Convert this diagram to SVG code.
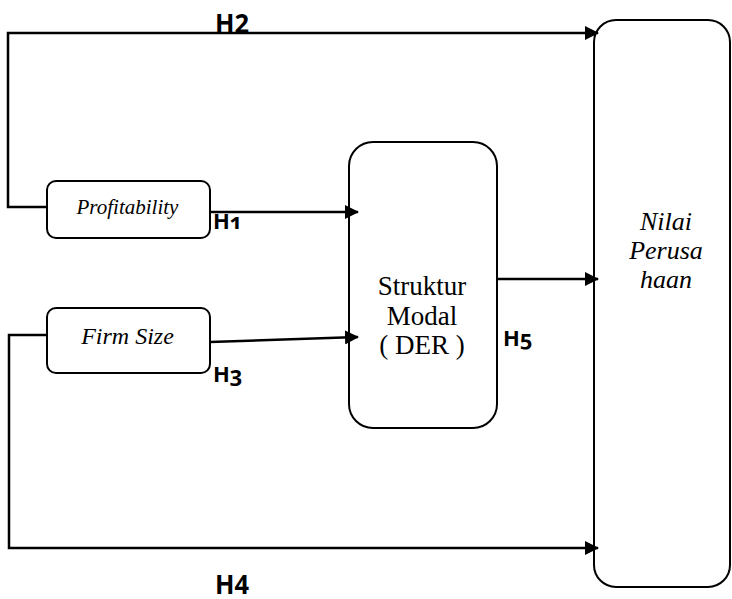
<svg xmlns="http://www.w3.org/2000/svg" width="732" height="599" viewBox="0 0 732 599">
<style>
.box{fill:#fff;stroke:#000;stroke-width:2}
.ln{fill:none;stroke:#000;stroke-width:2.5}
.h{font-family:"Open Sans",sans-serif;font-weight:bold;font-size:22px;fill:#000;font-variant-numeric:oldstyle-nums}
.hc{font-family:"Liberation Sans Narrow","Open Sans",sans-serif;font-weight:bold;font-size:26px;fill:#000}
.t{font-family:"Liberation Serif",serif;fill:#000;text-anchor:middle}
.i{font-style:italic}
</style>
<defs>
<marker id="ar" markerWidth="14" markerHeight="14" refX="13" refY="7" orient="auto" markerUnits="userSpaceOnUse" viewBox="0 0 14 14">
<path d="M0,0 L14,7 L0,14 Z" fill="#000"/>
</marker>
</defs>
<g id="nilai">
<rect class="box" x="594" y="20" width="136" height="567" rx="22"/>
<text class="t i" x="666" y="230" font-size="26">Nilai</text>
<text class="t i" x="666" y="259" font-size="26">Perusa</text>
<text class="t i" x="666" y="288" font-size="26">haan</text>
</g>
<g id="struktur">
<rect class="box" x="349" y="142" width="148" height="286" rx="24"/>
<text class="t" x="422" y="295" font-size="27">Struktur</text>
<text class="t" x="422" y="325" font-size="27">Modal</text>
<text class="t" x="422" y="354" font-size="27">( DER )</text>
</g>
<g id="profitability">
<rect class="box" x="47" y="181" width="163" height="57" rx="9"/>
<text class="t i" x="127.5" y="214" font-size="21">Profitability</text>
</g>
<g id="firmsize">
<rect class="box" x="47" y="308" width="163" height="65" rx="9"/>
<text class="t i" x="127.5" y="344" font-size="24">Firm Size</text>
</g>
<g id="connectors">
<path class="ln" d="M47,207 H8 V33 H598" marker-end="url(#ar)"/>
<path class="ln" d="M210,212 H358" marker-end="url(#ar)"/>
<path class="ln" d="M210,342 L358,337" marker-end="url(#ar)"/>
<path class="ln" d="M497,279 H598" marker-end="url(#ar)"/>
<path class="ln" d="M47,335 H9 V548 H598" marker-end="url(#ar)"/>
</g>
<g id="labels">
<text class="hc" x="215" y="33" textLength="34" lengthAdjust="spacingAndGlyphs">H2</text>
<text class="h" x="213" y="229">H1</text>
<text class="h" x="213" y="382">H3</text>
<text class="h" x="503" y="346">H5</text>
<text class="hc" x="215" y="594" font-size="25" textLength="34" lengthAdjust="spacingAndGlyphs">H4</text>
</g>
</svg>
